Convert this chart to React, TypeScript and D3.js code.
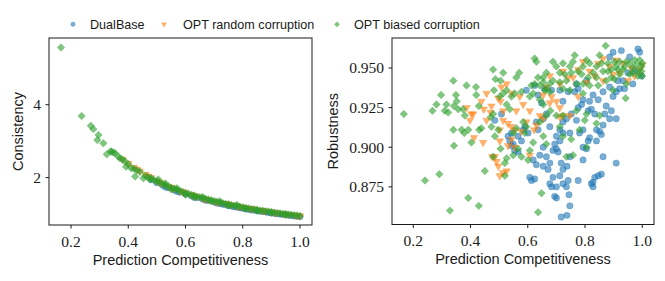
import React from "react";
import * as d3 from "d3";

// ---------- data ----------
// Left panel: [prediction competitiveness, consistency]
const consistencyDualBase: [number, number][] = [
  [0.48, 1.94], [0.5, 1.86], [0.52, 1.79], [0.53, 1.74], [0.54, 1.72], [0.56, 1.66], [0.57, 1.62], [0.58, 1.6],
  [0.6, 1.55], [0.62, 1.5], [0.63, 1.46], [0.64, 1.45], [0.66, 1.41], [0.67, 1.38], [0.68, 1.37], [0.7, 1.33],
  [0.71, 1.3], [0.72, 1.29], [0.73, 1.27], [0.74, 1.26], [0.75, 1.23], [0.76, 1.22], [0.77, 1.2], [0.78, 1.19],
  [0.79, 1.17], [0.8, 1.16], [0.81, 1.14], [0.82, 1.13], [0.83, 1.11], [0.84, 1.11], [0.85, 1.09], [0.86, 1.08],
  [0.87, 1.07], [0.88, 1.06], [0.89, 1.04], [0.9, 1.03], [0.91, 1.02], [0.92, 1.01], [0.93, 1.0], [0.94, 0.99],
  [0.95, 0.98], [0.96, 0.97], [0.97, 0.96], [0.98, 0.95], [0.99, 0.94], [1.0, 0.93],
];
const consistencyRandom: [number, number][] = [
  [0.38, 2.5], [0.4, 2.39], [0.42, 2.28], [0.43, 2.23], [0.44, 2.18], [0.46, 2.09], [0.47, 2.04], [0.48, 2.0],
  [0.5, 1.91], [0.51, 1.87], [0.52, 1.83], [0.54, 1.76], [0.55, 1.73], [0.56, 1.69], [0.58, 1.63], [0.59, 1.61],
  [0.6, 1.58], [0.62, 1.53], [0.63, 1.5], [0.64, 1.48], [0.66, 1.43], [0.67, 1.41], [0.68, 1.39], [0.7, 1.35],
  [0.71, 1.33], [0.72, 1.32], [0.74, 1.29], [0.75, 1.27], [0.76, 1.25], [0.78, 1.22], [0.79, 1.2], [0.8, 1.19],
  [0.82, 1.16], [0.83, 1.15], [0.84, 1.13], [0.86, 1.11], [0.87, 1.09], [0.88, 1.08], [0.9, 1.06], [0.91, 1.04],
  [0.92, 1.03], [0.94, 1.01], [0.95, 1.0], [0.96, 0.99], [0.98, 0.97], [0.99, 0.96], [1.0, 0.95],
];
const consistencyBiased: [number, number][] = [
  [0.165, 5.57], [0.237, 3.69], [0.269, 3.42], [0.278, 3.33], [0.296, 3.17], [0.292, 3.03], [0.313, 2.94],
  [0.325, 2.64], [0.338, 2.72], [0.342, 2.71], [0.348, 2.69], [0.354, 2.67], [0.365, 2.58], [0.371, 2.53],
  [0.38, 2.5], [0.389, 2.44], [0.392, 2.3], [0.4, 2.37], [0.41, 2.26], [0.42, 2.24], [0.424, 2.03], [0.43, 2.2],
  [0.441, 2.16], [0.453, 1.98], [0.46, 2.05], [0.47, 2.01], [0.476, 1.95], [0.48, 1.99], [0.49, 1.93],
  [0.5, 1.9], [0.505, 1.95], [0.51, 1.86], [0.52, 1.83], [0.53, 1.79], [0.53, 1.84], [0.54, 1.76], [0.55, 1.72],
  [0.55, 1.68], [0.56, 1.7], [0.57, 1.67], [0.57, 1.71], [0.58, 1.64], [0.59, 1.61], [0.6, 1.58], [0.6, 1.53],
  [0.61, 1.56], [0.62, 1.53], [0.63, 1.51], [0.63, 1.47], [0.64, 1.48], [0.65, 1.46], [0.66, 1.44], [0.66, 1.47],
  [0.67, 1.42], [0.68, 1.4], [0.69, 1.38], [0.69, 1.35], [0.7, 1.36], [0.71, 1.34], [0.72, 1.32], [0.72, 1.35],
  [0.73, 1.3], [0.74, 1.28], [0.75, 1.27], [0.75, 1.24], [0.76, 1.25], [0.77, 1.23], [0.78, 1.22], [0.78, 1.25],
  [0.79, 1.2], [0.8, 1.19], [0.81, 1.17], [0.81, 1.15], [0.82, 1.16], [0.83, 1.14], [0.84, 1.13], [0.85, 1.12],
  [0.85, 1.09], [0.86, 1.1], [0.87, 1.09], [0.88, 1.08], [0.89, 1.07], [0.9, 1.06], [0.9, 1.04], [0.91, 1.04],
  [0.92, 1.03], [0.93, 1.02], [0.94, 1.01], [0.95, 1.0], [0.95, 0.98], [0.96, 0.99], [0.97, 0.98], [0.98, 0.97],
  [0.99, 0.96], [1.0, 0.95],
];

// Right panel: [prediction competitiveness, robustness]
const robustnessDualBase: [number, number][] = [
  [0.537, 0.904], [0.543, 0.901], [0.549, 0.902], [0.531, 0.907], [0.554, 0.898], [0.485, 0.917], [0.508, 0.921],
  [0.584, 0.911], [0.607, 0.881], [0.613, 0.879], [0.624, 0.88], [0.63, 0.916], [0.636, 0.911], [0.648, 0.928],
  [0.636, 0.933], [0.654, 0.9], [0.665, 0.894], [0.677, 0.89], [0.677, 0.877], [0.683, 0.875], [0.688, 0.881],
  [0.694, 0.869], [0.7, 0.868], [0.688, 0.898], [0.694, 0.902], [0.7, 0.899], [0.706, 0.897], [0.712, 0.904],
  [0.717, 0.89], [0.723, 0.886], [0.712, 0.882], [0.723, 0.877], [0.735, 0.875], [0.741, 0.879], [0.737, 0.888],
  [0.747, 0.894], [0.717, 0.856], [0.737, 0.857], [0.747, 0.863], [0.744, 0.87], [0.723, 0.916], [0.735, 0.918],
  [0.712, 0.911], [0.747, 0.909], [0.776, 0.879], [0.793, 0.9], [0.805, 0.899], [0.811, 0.904], [0.822, 0.877],
  [0.828, 0.875], [0.834, 0.881], [0.846, 0.882], [0.857, 0.883], [0.828, 0.878], [0.811, 0.923], [0.822, 0.924],
  [0.834, 0.921], [0.84, 0.911], [0.851, 0.91], [0.857, 0.908], [0.863, 0.914], [0.869, 0.921], [0.874, 0.926],
  [0.886, 0.918], [0.892, 0.923], [0.909, 0.918], [0.898, 0.932], [0.909, 0.935], [0.921, 0.937], [0.933, 0.942],
  [0.886, 0.938], [0.863, 0.935], [0.846, 0.93], [0.828, 0.933], [0.816, 0.929], [0.793, 0.93], [0.788, 0.927],
  [0.776, 0.925], [0.77, 0.94], [0.776, 0.937], [0.805, 0.942], [0.886, 0.957], [0.898, 0.96], [0.927, 0.961],
  [0.985, 0.962], [0.991, 0.96], [0.956, 0.957], [0.973, 0.948], [0.997, 0.945], [0.95, 0.947], [0.967, 0.94],
  [0.938, 0.937], [0.915, 0.942], [0.863, 0.894], [0.84, 0.904], [0.816, 0.906], [0.793, 0.892], [0.642, 0.895],
  [0.619, 0.892], [0.63, 0.889], [0.654, 0.888], [0.671, 0.886], [0.7, 0.875], [0.595, 0.936], [0.624, 0.939],
  [0.659, 0.937], [0.683, 0.936], [0.712, 0.936], [0.741, 0.935], [0.764, 0.935], [0.723, 0.929], [0.752, 0.921],
  [0.665, 0.921], [0.677, 0.913], [0.654, 0.918], [0.59, 0.913], [0.601, 0.909], [0.566, 0.907], [0.578, 0.904],
  [0.543, 0.909], [0.566, 0.897], [0.793, 0.911], [0.77, 0.917], [0.781, 0.909], [0.909, 0.89], [0.723, 0.909],
  [0.7, 0.907],
];
const robustnessRandom: [number, number][] = [
  [0.398, 0.917], [0.403, 0.921], [0.412, 0.906], [0.444, 0.903], [0.438, 0.929], [0.446, 0.924], [0.47, 0.922],
  [0.473, 0.926], [0.476, 0.894], [0.485, 0.894], [0.497, 0.888], [0.491, 0.891], [0.502, 0.882], [0.514, 0.884],
  [0.526, 0.885], [0.497, 0.931], [0.505, 0.929], [0.514, 0.923], [0.531, 0.915], [0.543, 0.913], [0.554, 0.911],
  [0.578, 0.91], [0.607, 0.895], [0.595, 0.916], [0.622, 0.911], [0.63, 0.914], [0.642, 0.92], [0.607, 0.923],
  [0.584, 0.927], [0.56, 0.923], [0.572, 0.932], [0.543, 0.934], [0.508, 0.938], [0.526, 0.94], [0.456, 0.934],
  [0.386, 0.925], [0.409, 0.921], [0.654, 0.918], [0.677, 0.928], [0.683, 0.932], [0.7, 0.929], [0.712, 0.925],
  [0.723, 0.92], [0.723, 0.948], [0.741, 0.944], [0.712, 0.94], [0.677, 0.945], [0.776, 0.932], [0.747, 0.92],
  [0.712, 0.919], [0.776, 0.949], [0.793, 0.954], [0.816, 0.948], [0.846, 0.953], [0.863, 0.956], [0.886, 0.951],
  [0.909, 0.955], [0.921, 0.947], [0.95, 0.942], [0.962, 0.95], [0.973, 0.945], [0.991, 0.949], [1.0, 0.952],
  [0.933, 0.953], [0.898, 0.946], [0.863, 0.942], [0.834, 0.945], [0.805, 0.941], [0.758, 0.944], [0.665, 0.938],
  [0.654, 0.933], [0.531, 0.901], [0.502, 0.904], [0.543, 0.905], [0.554, 0.9], [0.502, 0.911], [0.456, 0.917],
  [0.514, 0.917],
];
const robustnessBiased: [number, number][] = [
  [0.167, 0.921], [0.241, 0.879], [0.291, 0.883], [0.328, 0.86], [0.392, 0.868], [0.429, 0.863], [0.45, 0.885],
  [0.636, 0.859], [0.648, 0.871], [0.267, 0.923], [0.281, 0.927], [0.297, 0.933], [0.316, 0.927], [0.31, 0.923],
  [0.34, 0.942], [0.349, 0.933], [0.352, 0.929], [0.342, 0.926], [0.322, 0.922], [0.357, 0.924], [0.374, 0.924],
  [0.38, 0.92], [0.34, 0.911], [0.369, 0.911], [0.378, 0.909], [0.392, 0.911], [0.342, 0.901], [0.386, 0.939],
  [0.419, 0.938], [0.42, 0.933], [0.429, 0.926], [0.403, 0.903], [0.43, 0.911], [0.438, 0.912], [0.479, 0.949],
  [0.487, 0.943], [0.482, 0.936], [0.514, 0.947], [0.505, 0.942], [0.514, 0.934], [0.502, 0.932], [0.526, 0.927],
  [0.537, 0.924], [0.543, 0.932], [0.554, 0.934], [0.56, 0.944], [0.57, 0.947], [0.578, 0.935], [0.526, 0.936],
  [0.485, 0.907], [0.497, 0.911], [0.47, 0.919], [0.479, 0.921], [0.473, 0.913], [0.479, 0.894], [0.52, 0.89],
  [0.526, 0.893], [0.549, 0.895], [0.566, 0.899], [0.578, 0.894], [0.52, 0.882], [0.505, 0.899], [0.549, 0.909],
  [0.56, 0.912], [0.584, 0.916], [0.59, 0.909], [0.595, 0.913], [0.601, 0.892], [0.607, 0.932], [0.619, 0.934],
  [0.624, 0.956], [0.63, 0.954], [0.636, 0.944], [0.642, 0.939], [0.654, 0.941], [0.665, 0.947], [0.665, 0.937],
  [0.677, 0.935], [0.642, 0.93], [0.654, 0.927], [0.665, 0.92], [0.679, 0.923], [0.688, 0.954], [0.7, 0.951],
  [0.712, 0.947], [0.723, 0.953], [0.735, 0.942], [0.747, 0.951], [0.758, 0.954], [0.764, 0.958], [0.77, 0.94],
  [0.793, 0.951], [0.805, 0.955], [0.816, 0.953], [0.828, 0.947], [0.84, 0.951], [0.851, 0.958], [0.872, 0.964],
  [0.88, 0.953], [0.892, 0.944], [0.909, 0.951], [0.921, 0.954], [0.933, 0.949], [0.944, 0.94], [0.956, 0.953],
  [0.967, 0.947], [0.979, 0.952], [0.991, 0.955], [0.997, 0.951], [1.0, 0.945], [0.942, 0.931], [0.851, 0.92],
  [0.84, 0.915], [0.805, 0.921], [0.799, 0.917], [0.77, 0.923], [0.781, 0.911], [0.805, 0.9], [0.752, 0.905],
  [0.735, 0.894], [0.758, 0.895], [0.723, 0.92], [0.7, 0.92], [0.712, 0.913], [0.723, 0.907], [0.747, 0.936],
  [0.793, 0.934], [0.846, 0.939], [0.898, 0.936], [0.654, 0.907], [0.665, 0.902], [0.619, 0.903], [0.607, 0.898],
  [0.642, 0.916], [0.921, 0.946], [0.956, 0.946], [0.985, 0.948], [1.0, 0.953], [0.973, 0.955], [0.944, 0.954],
  [0.903, 0.954], [0.892, 0.949], [0.863, 0.948], [0.84, 0.944], [0.811, 0.944], [0.788, 0.946], [0.776, 0.948],
  [0.752, 0.947], [0.729, 0.946], [0.712, 0.941], [0.688, 0.942], [0.677, 0.94], [0.654, 0.944], [0.624, 0.94],
  [0.613, 0.939], [0.659, 0.936], [0.723, 0.937], [0.793, 0.94], [0.816, 0.939], [0.874, 0.942], [0.903, 0.943],
  [0.985, 0.945], [0.997, 0.948], [0.967, 0.95], [0.938, 0.951], [0.915, 0.949], [0.88, 0.948], [0.857, 0.953],
];

const seriesNames = ["DualBase", "OPT random corruption", "OPT biased corruption"];
const seriesColors = ["#1f77b4", "#ff7f0e", "#2ca02c"];
const xTicks = [0.2, 0.4, 0.6, 0.8, 1.0];
const consistencyTicks = [2, 4];
const robustnessTicks = [0.875, 0.9, 0.925, 0.95];

// ---------- drawing ----------
const W = 665;
const H = 281;
const serif = "'Liberation Serif', 'Times New Roman', serif";
const sans = "'Liberation Sans', Arial, sans-serif";

const symCircle = d3.symbol().type(d3.symbolCircle).size(32)()!;
const symDiamond = d3.symbol().type(d3.symbolSquare).size(28)()!;
const symTriangle = d3.symbol().type(d3.symbolTriangle).size(24)()!;
const symbolPaths = [symCircle, symTriangle, symDiamond];
const symbolRot = [0, 180, 45];

function Marker({ kind, x, y, scale = 1, opacity = 0.6 }: { kind: number; x: number; y: number; scale?: number; opacity?: number }) {
  return (
    <path
      d={symbolPaths[kind]}
      transform={`translate(${x},${y}) rotate(${symbolRot[kind]}) scale(${scale})`}
      fill={seriesColors[kind]}
      fillOpacity={opacity}
      stroke={seriesColors[kind]}
      strokeOpacity={opacity}
      strokeWidth={0.5}
    />
  );
}

type Panel = {
  left: number; right: number; top: number; bottom: number;
  xDomain: [number, number]; yDomain: [number, number];
  yTicks: number[]; yFmt: (v: number) => string; yLabel: string; yLabelX: number;
  data: [number, number][][];
};

function PanelView({ p }: { p: Panel }) {
  const x = d3.scaleLinear().domain(p.xDomain).range([p.left, p.right]);
  const y = d3.scaleLinear().domain(p.yDomain).range([p.bottom, p.top]);
  const cx = (p.left + p.right) / 2;
  const cy = (p.top + p.bottom) / 2;
  return (
    <g>
      {p.data.map((pts, k) => (
        <g key={k}>
          {pts.map((d, i) => (
            <Marker key={i} kind={k} x={x(d[0])} y={y(d[1])} />
          ))}
        </g>
      ))}
      <rect x={p.left} y={p.top} width={p.right - p.left} height={p.bottom - p.top} fill="none" stroke="#1a1a1a" strokeWidth={1} />
      {xTicks.map((t) => (
        <g key={t}>
          <line x1={x(t)} x2={x(t)} y1={p.bottom} y2={p.bottom + 3.5} stroke="#1a1a1a" strokeWidth={1} />
          <text x={x(t)} y={p.bottom + 21.5} textAnchor="middle" fontFamily={serif} fontSize={15.5} fill="#1a1a1a">
            {d3.format(".1f")(t)}
          </text>
        </g>
      ))}
      {p.yTicks.map((t) => (
        <g key={t}>
          <line x1={p.left - 3.5} x2={p.left} y1={y(t)} y2={y(t)} stroke="#1a1a1a" strokeWidth={1} />
          <text x={p.left - 8} y={y(t)} dy="0.34em" textAnchor="end" fontFamily={serif} fontSize={15.5} fill="#1a1a1a">
            {p.yFmt(t)}
          </text>
        </g>
      ))}
      <text x={cx} y={p.bottom + 39.5} textAnchor="middle" fontFamily={sans} fontSize={14.5} fill="#1a1a1a">
        Prediction Competitiveness
      </text>
      <text transform={`translate(${p.yLabelX},${cy}) rotate(-90)`} textAnchor="middle" fontFamily={sans} fontSize={14.5} fill="#1a1a1a">
        {p.yLabel}
      </text>
    </g>
  );
}

export default function App() {
  const leftPanel: Panel = {
    left: 49, right: 312, top: 38, bottom: 225,
    xDomain: [0.123, 1.042], yDomain: [0.7, 5.83],
    yTicks: consistencyTicks, yFmt: (v) => String(v), yLabel: "Consistency", yLabelX: 22.5,
    data: [consistencyDualBase, consistencyRandom, consistencyBiased],
  };
  const rightPanel: Panel = {
    left: 392, right: 654, top: 38, bottom: 224.5,
    xDomain: [0.1256, 1.041], yDomain: [0.85124, 0.96896],
    yTicks: robustnessTicks, yFmt: d3.format(".3f"), yLabel: "Robustness", yLabelX: 337.5,
    data: [robustnessDualBase, robustnessRandom, robustnessBiased],
  };
  const legendMarkerX = [73, 164, 337];
  const legendTextX = [90, 183, 354];
  return (
    <svg width={W} height={H} style={{ position: "fixed", left: 0, top: 0, background: "#fff" }}>
      <rect width={W} height={H} fill="#fff" />
      <PanelView p={leftPanel} />
      <PanelView p={rightPanel} />
      {seriesNames.map((name, k) => (
        <g key={name}>
          <Marker kind={k} x={legendMarkerX[k]} y={24.3} scale={0.7} />
          <text x={legendTextX[k]} y={29.3} fontFamily={sans} fontSize={12.6} fill="#1a1a1a">
            {name}
          </text>
        </g>
      ))}
    </svg>
  );
}
